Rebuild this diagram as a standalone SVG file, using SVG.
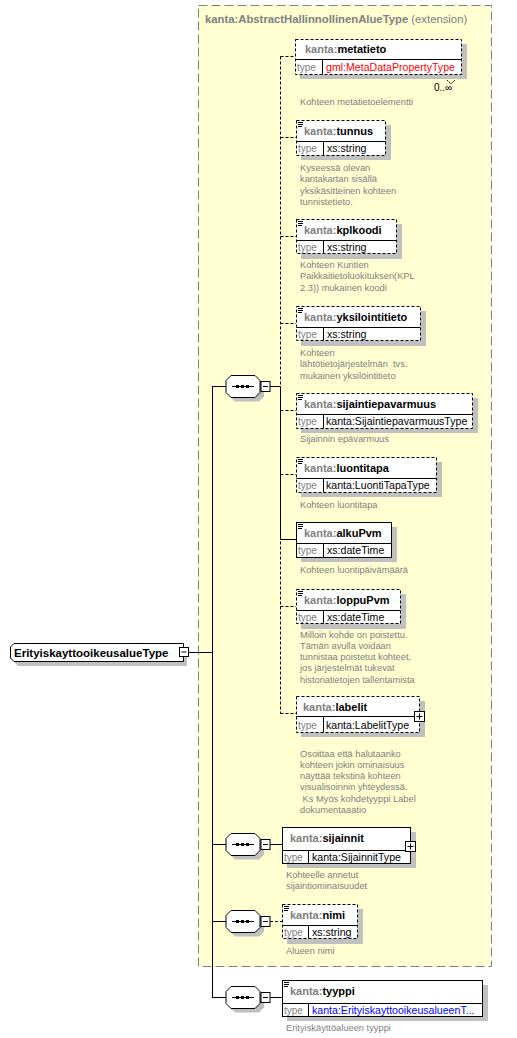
<svg xmlns="http://www.w3.org/2000/svg" width="517" height="1038" viewBox="0 0 517 1038">
<style>
text{font-family:"Liberation Sans",Arial,sans-serif}
.ttl{font-size:11px;font-weight:bold;fill:#000}
.pre{fill:#808080}
.typ{font-size:10px;fill:#808080}
.tv{font-size:10.6px;fill:#000}
.red{fill:#ff0000}
.blue{fill:#0000ff}
.desc{font-size:9.3px;fill:#808080}
.box{fill:#fff;stroke:#000;stroke-width:1}
.opt{stroke-dasharray:3,2}
.shd{fill:#c0c0c0}
.ln{stroke:#000;stroke-width:1;fill:none}
.dl{stroke:#000;stroke-width:1;fill:none;stroke-dasharray:3,2}
</style>
<defs>
<g id="seq">
<polygon points="9,-7 33,-7 38,-2 38,10 33,15 9,15 4,10 4,-2" class="shd"/>
<polygon points="5,-11 29,-11 34,-6 34,6 29,11 5,11 0,6 0,-6" class="box"/>
<line x1="6" y1="0" x2="28" y2="0" class="ln"/>
<rect x="10" y="-1.5" width="3" height="3" fill="#000"/>
<rect x="15" y="-1.5" width="3" height="3" fill="#000"/>
<rect x="20" y="-1.5" width="3" height="3" fill="#000"/>
<rect x="35" y="-5" width="9" height="10" class="box"/>
<line x1="37" y1="0" x2="42" y2="0" class="ln"/>
</g>
<g id="doc">
<line x1="0" y1="0" x2="5" y2="0" class="ln"/>
<line x1="0" y1="2" x2="5" y2="2" class="ln"/>
<line x1="0" y1="4" x2="4" y2="4" class="ln"/>
</g>
<g id="plus">
<rect x="0" y="0" width="10" height="10" class="box"/>
<line x1="2" y1="5" x2="8" y2="5" class="ln"/>
<line x1="5" y1="2" x2="5" y2="8" class="ln"/>
</g>
</defs>

<g id="extension">
<rect x="198.5" y="5.5" width="293" height="961" fill="#ffffd2" stroke="#808080" stroke-dasharray="9,4"/>
<text x="205" y="23" style="font-size:11.3px;font-weight:bold" fill="#808080">kanta:AbstractHallinnollinenAlueType<tspan font-weight="normal"> (extension)</tspan></text>
</g>

<g id="connectors">
<line x1="188" y1="652.5" x2="212.5" y2="652.5" class="ln"/>
<line x1="212.5" y1="386" x2="212.5" y2="998" class="ln"/>
<line x1="212.5" y1="386.5" x2="226" y2="386.5" class="ln"/>
<line x1="212.5" y1="844.5" x2="226" y2="844.5" class="ln"/>
<line x1="212.5" y1="921.5" x2="226" y2="921.5" class="ln"/>
<line x1="212.5" y1="997.5" x2="226" y2="997.5" class="ln"/>
<line x1="270" y1="386.5" x2="280.5" y2="386.5" class="ln"/>
<line x1="280.5" y1="56.5" x2="280.5" y2="713.5" class="dl"/>
<line x1="280.5" y1="386.5" x2="280.5" y2="539.5" class="ln"/>
<line x1="280.5" y1="56.5" x2="295" y2="56.5" class="dl"/>
<line x1="280.5" y1="137.5" x2="296" y2="137.5" class="dl"/>
<line x1="280.5" y1="236.5" x2="296" y2="236.5" class="dl"/>
<line x1="280.5" y1="323.5" x2="296" y2="323.5" class="dl"/>
<line x1="280.5" y1="410.5" x2="296" y2="410.5" class="dl"/>
<line x1="280.5" y1="474.5" x2="296" y2="474.5" class="dl"/>
<line x1="280.5" y1="539.5" x2="296" y2="539.5" class="ln"/>
<line x1="280.5" y1="606.5" x2="296" y2="606.5" class="dl"/>
<line x1="280.5" y1="713.5" x2="296" y2="713.5" class="dl"/>
<line x1="270" y1="844.5" x2="282" y2="844.5" class="ln"/>
<line x1="270" y1="921.5" x2="282" y2="921.5" class="dl"/>
<line x1="270" y1="997.5" x2="282" y2="997.5" class="ln"/>
</g>

<g id="root">
<polygon points="18,648 187,648 187,666 18,666 14,662 14,652" class="shd"/>
<polygon points="14,643.5 183.5,643.5 183.5,661.5 14,661.5 10.5,658 10.5,647" class="box"/>
<text x="14" y="657" style="font-size:11.5px;font-weight:bold" fill="#000">ErityiskayttooikeusalueType</text>
<rect x="179.5" y="647.5" width="9" height="9" class="box"/>
<line x1="181.5" y1="652" x2="186.5" y2="652" class="ln"/>
</g>

<g id="seq1"><use href="#seq" x="226" y="386.5"/></g>
<g id="seq2"><use href="#seq" x="226" y="844.5"/></g>
<g id="seq3"><use href="#seq" x="226" y="921.5"/></g>
<g id="seq4"><use href="#seq" x="226" y="997.5"/></g>

<g id="metatieto">
<rect x="300" y="44" width="167" height="35" class="shd"/>
<rect x="295.5" y="39.5" width="166" height="35" class="box opt"/>
<line x1="295.5" y1="59.5" x2="461.5" y2="59.5" class="ln"/>
<line x1="322.5" y1="59.5" x2="322.5" y2="74.5" class="ln"/>
<text x="305" y="53" class="ttl"><tspan class="pre">kanta:</tspan>metatieto</text>
<text x="297" y="71" class="typ">type</text>
<text x="326" y="71" class="tv red">gml:MetaDataPropertyType</text>
<polyline points="447,80 451,84 455,80" class="ln" stroke-dasharray="2,1"/>
<text x="434" y="91" style="font-size:10px" fill="#000">0..∞</text>
<text x="300" y="105" class="desc">Kohteen metatietoelementti</text>
</g>

<g id="tunnus">
<rect x="301" y="125" width="90" height="35" class="shd"/>
<rect x="296.5" y="120.5" width="89" height="35" class="box opt"/>
<line x1="296.5" y1="141.5" x2="385.5" y2="141.5" class="ln"/>
<line x1="323.5" y1="141.5" x2="323.5" y2="155.5" class="ln"/>
<use href="#doc" x="298" y="122.5"/>
<text x="304" y="135" class="ttl"><tspan class="pre">kanta:</tspan>tunnus</text>
<text x="298" y="152" class="typ">type</text>
<text x="327" y="152" class="tv">xs:string</text>
<text class="desc"><tspan x="300" y="171">Kyseessä olevan</tspan><tspan x="300" y="182.3">kantakartan sisällä</tspan><tspan x="300" y="193.6">yksikäsitteinen kohteen</tspan><tspan x="300" y="204.9">tunnistetieto.</tspan></text>
</g>

<g id="kplkoodi">
<rect x="301" y="224" width="101" height="35" class="shd"/>
<rect x="296.5" y="219.5" width="100" height="34" class="box opt"/>
<line x1="296.5" y1="240.5" x2="396.5" y2="240.5" class="ln"/>
<line x1="323.5" y1="240.5" x2="323.5" y2="253.5" class="ln"/>
<use href="#doc" x="298" y="221.5"/>
<text x="304" y="234" class="ttl"><tspan class="pre">kanta:</tspan>kplkoodi</text>
<text x="298" y="251" class="typ">type</text>
<text x="327" y="251" class="tv">xs:string</text>
<text class="desc"><tspan x="300" y="268">Kohteen Kuntien</tspan><tspan x="300" y="279.3">Paikkaitietoluokituksen(KPL</tspan><tspan x="300" y="290.6">2.3)) mukainen koodi</tspan></text>
</g>

<g id="yksilointitieto">
<rect x="301" y="311" width="125" height="35" class="shd"/>
<rect x="296.5" y="306.5" width="124" height="34" class="box opt"/>
<line x1="296.5" y1="327.5" x2="420.5" y2="327.5" class="ln"/>
<line x1="323.5" y1="327.5" x2="323.5" y2="340.5" class="ln"/>
<use href="#doc" x="298" y="308.5"/>
<text x="304" y="321" class="ttl"><tspan class="pre">kanta:</tspan>yksilointitieto</text>
<text x="298" y="338" class="typ">type</text>
<text x="327" y="338" class="tv">xs:string</text>
<text class="desc" xml:space="preserve"><tspan x="300" y="356">Kohteen</tspan><tspan x="300" y="367.3">lähtötietojärjestelmän  tvs.</tspan><tspan x="300" y="378.6">mukainen yksilöintitieto</tspan></text>
</g>

<g id="sijaintiepavarmuus">
<rect x="301" y="398" width="177" height="35" class="shd"/>
<rect x="296.5" y="393.5" width="176" height="35" class="box opt"/>
<line x1="296.5" y1="414.5" x2="472.5" y2="414.5" class="ln"/>
<line x1="323.5" y1="414.5" x2="323.5" y2="428.5" class="ln"/>
<use href="#doc" x="298" y="395.5"/>
<text x="304" y="408" class="ttl"><tspan class="pre">kanta:</tspan>sijaintiepavarmuus</text>
<text x="298" y="425" class="typ">type</text>
<text x="326" y="425" class="tv">kanta:SijaintiepavarmuusType</text>
<text x="300" y="441.5" class="desc">Sijainnin epävarmuus</text>
</g>

<g id="luontitapa">
<rect x="301" y="462" width="141" height="35" class="shd"/>
<rect x="296.5" y="457.5" width="140" height="35" class="box opt"/>
<line x1="296.5" y1="478.5" x2="436.5" y2="478.5" class="ln"/>
<line x1="323.5" y1="478.5" x2="323.5" y2="492.5" class="ln"/>
<use href="#doc" x="298" y="459.5"/>
<text x="304" y="472" class="ttl"><tspan class="pre">kanta:</tspan>luontitapa</text>
<text x="298" y="489" class="typ">type</text>
<text x="326" y="489" class="tv">kanta:LuontiTapaType</text>
<text x="300" y="507.5" class="desc">Kohteen luontitapa</text>
</g>

<g id="alkuPvm">
<rect x="301" y="527" width="96" height="35" class="shd"/>
<rect x="296.5" y="522.5" width="95" height="35" class="box"/>
<line x1="296.5" y1="543.5" x2="391.5" y2="543.5" class="ln"/>
<line x1="323.5" y1="543.5" x2="323.5" y2="557.5" class="ln"/>
<use href="#doc" x="298" y="524.5"/>
<text x="304" y="537" class="ttl"><tspan class="pre">kanta:</tspan>alkuPvm</text>
<text x="298" y="554" class="typ">type</text>
<text x="327" y="554" class="tv">xs:dateTime</text>
<text x="300" y="572.5" class="desc">Kohteen luontipäivämäärä</text>
</g>

<g id="loppuPvm">
<rect x="301" y="594" width="105" height="35" class="shd"/>
<rect x="296.5" y="589.5" width="104" height="34" class="box opt"/>
<line x1="296.5" y1="610.5" x2="400.5" y2="610.5" class="ln"/>
<line x1="323.5" y1="610.5" x2="323.5" y2="623.5" class="ln"/>
<use href="#doc" x="298" y="591.5"/>
<text x="304" y="604" class="ttl"><tspan class="pre">kanta:</tspan>loppuPvm</text>
<text x="298" y="621" class="typ">type</text>
<text x="327" y="621" class="tv">xs:dateTime</text>
<text class="desc"><tspan x="300" y="637.5">Milloin kohde on poistettu.</tspan><tspan x="300" y="648.8">Tämän avulla voidaan</tspan><tspan x="300" y="660.1">tunnistaa poistetut kohteet,</tspan><tspan x="300" y="671.4">jos järjestelmät tukevat</tspan><tspan x="300" y="682.7">historiatietojen tallentamista</tspan></text>
</g>

<g id="labelit">
<rect x="301" y="701" width="124" height="36" class="shd"/>
<rect x="296.5" y="696.5" width="123" height="36" class="box opt"/>
<line x1="296.5" y1="716.5" x2="419.5" y2="716.5" class="ln"/>
<line x1="323.5" y1="716.5" x2="323.5" y2="732.5" class="ln"/>
<text x="303" y="711" class="ttl"><tspan class="pre">kanta:</tspan>labelit</text>
<text x="298" y="729" class="typ">type</text>
<text x="326" y="729" class="tv">kanta:LabelitType</text>
<use href="#plus" x="414.5" y="711.5"/>
<text class="desc" xml:space="preserve"><tspan x="300" y="756.5">Osoittaa että halutaanko</tspan><tspan x="300" y="767.8">kohteen jokin ominaisuus</tspan><tspan x="300" y="779.1">näyttää tekstinä kohteen</tspan><tspan x="300" y="790.4">visualisoinnin yhteydessä.</tspan><tspan x="300" y="801.7"> Ks Myös kohdetyyppi Label</tspan><tspan x="300" y="813">dokumentaaatio</tspan></text>
</g>

<g id="sijainnit">
<rect x="287" y="832" width="129" height="36" class="shd"/>
<rect x="282.5" y="827.5" width="128" height="36" class="box"/>
<line x1="282.5" y1="850.5" x2="410.5" y2="850.5" class="ln"/>
<line x1="308.5" y1="850.5" x2="308.5" y2="863.5" class="ln"/>
<text x="290" y="842" class="ttl"><tspan class="pre">kanta:</tspan>sijainnit</text>
<text x="284" y="861" class="typ">type</text>
<text x="312" y="861" class="tv">kanta:SijainnitType</text>
<use href="#plus" x="405.5" y="841.5"/>
<text class="desc"><tspan x="286" y="877.5">Kohteelle annetut</tspan><tspan x="286" y="888.8">sijaintiominaisuudet</tspan></text>
</g>

<g id="nimi">
<rect x="287" y="909" width="76" height="35" class="shd"/>
<rect x="282.5" y="904.5" width="75" height="34" class="box opt"/>
<line x1="282.5" y1="925.5" x2="357.5" y2="925.5" class="ln"/>
<line x1="308.5" y1="925.5" x2="308.5" y2="938.5" class="ln"/>
<use href="#doc" x="284" y="906.5"/>
<text x="290" y="919" class="ttl"><tspan class="pre">kanta:</tspan>nimi</text>
<text x="284" y="936" class="typ">type</text>
<text x="312" y="936" class="tv">xs:string</text>
<text x="286" y="953.5" class="desc">Alueen nimi</text>
</g>

<g id="tyyppi">
<rect x="287" y="985" width="201" height="36" class="shd"/>
<rect x="282.5" y="980.5" width="200" height="36" class="box"/>
<line x1="282.5" y1="1003.5" x2="482.5" y2="1003.5" class="ln"/>
<line x1="308.5" y1="1003.5" x2="308.5" y2="1016.5" class="ln"/>
<use href="#doc" x="284" y="982.5"/>
<text x="290" y="995" class="ttl"><tspan class="pre">kanta:</tspan>tyyppi</text>
<text x="284" y="1014" class="typ">type</text>
<text x="312" y="1014" class="tv blue">kanta:ErityiskayttooikeusalueenT...</text>
<text x="286" y="1030.5" class="desc">Erityiskäyttöalueen tyyppi</text>
</g>
</svg>
